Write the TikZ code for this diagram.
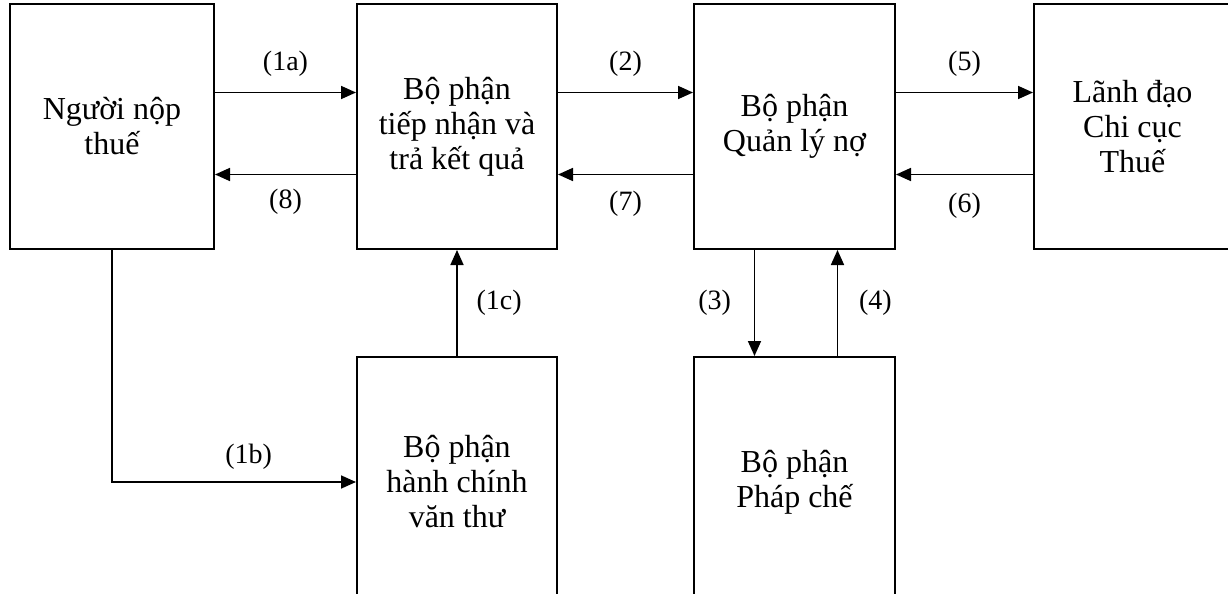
\documentclass[tikz,border=0pt]{standalone}
\usepackage{fontspec}
\setmainfont{Liberation Serif}
\usetikzlibrary{arrows.meta,positioning}

\begin{document}
\begin{tikzpicture}[
    x=0.5pt, y=-0.5pt,
    box/.style={draw, line width=1pt, minimum width=100pt, minimum height=122.5pt, align=center, inner sep=0pt, font=\fontsize{16}{17.5}\selectfont},
    tall/.style={box, minimum height=125pt},
    arrow/.style={-{Triangle[length=7.5pt,width=6.5pt]}, line width=0.85pt},
    note/.style={font=\fontsize{14}{16}\selectfont}
  ]
  \useasboundingbox (0,0) rectangle (1228,594);

  % Main components
  \node[box, minimum width=102pt] (nguoi_nop) at (112,126.5) {Người nộp\\thuế};
  \node[box, right=70.5pt of nguoi_nop] (tiep_nhan) {Bộ phận\\tiếp nhận và\\trả kết quả};
  \node[box, minimum width=100.5pt, right=67.5pt of tiep_nhan] (quan_ly_no) {Bộ phận\\Quản lý nợ};
  \node[box, minimum width=98.5pt, right=68.5pt of quan_ly_no] (lanh_dao) {Lãnh đạo\\Chi cục\\Thuế};

  % Lower row
  \node[tall, below=53pt of tiep_nhan] (van_thu) {Bộ phận\\hành chính\\văn thư};
  \node[tall, minimum width=100.5pt, below=53pt of quan_ly_no] (phap_che) {Bộ phận\\Pháp chế};

  % Connections
  \draw[arrow] ([yshift=17pt]nguoi_nop.east) -- node[note, above=4.5pt] {(1a)} ([yshift=17pt]tiep_nhan.west);
  \draw[arrow] ([yshift=-24pt]tiep_nhan.west) -- node[note, below=3.5pt] {(8)} ([yshift=-24pt]nguoi_nop.east);
  \draw[arrow] ([yshift=17pt]tiep_nhan.east) -- node[note, above=4.5pt] {(2)} ([yshift=17pt]quan_ly_no.west);
  \draw[arrow] ([yshift=-24pt]quan_ly_no.west) -- node[note, below=4.5pt] {(7)} ([yshift=-24pt]tiep_nhan.east);
  \draw[arrow] ([yshift=17pt]quan_ly_no.east) -- node[note, above=4.5pt] {(5)} ([yshift=17pt]lanh_dao.west);
  \draw[arrow] ([yshift=-24pt]lanh_dao.west) -- node[note, below=5.5pt] {(6)} ([yshift=-24pt]quan_ly_no.east);
  \draw[arrow] (nguoi_nop.south) |- node[note, pos=0.78, above=2.5pt] {(1b)} (van_thu.west);
  \draw[arrow] (van_thu.north) -- node[note, right=6pt] {(1c)} (tiep_nhan.south);
  \draw[arrow] ([xshift=-20pt]quan_ly_no.south) -- node[note, left=8pt] {(3)} ([xshift=-20pt]phap_che.north);
  \draw[arrow] ([xshift=21.5pt]phap_che.north) -- node[note, right=7pt] {(4)} ([xshift=21.5pt]quan_ly_no.south);

\end{tikzpicture}
\end{document}
